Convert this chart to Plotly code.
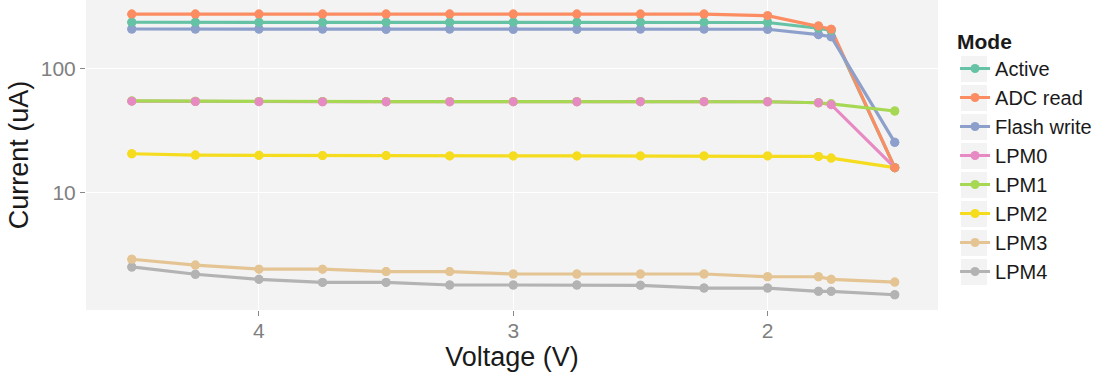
import plotly.graph_objects as go

voltage = [4.5, 4.25, 4.0, 3.75, 3.5, 3.25, 3.0, 2.75, 2.5, 2.25, 2.0, 1.8, 1.75, 1.5]

modes = ["Active", "ADC read", "Flash write", "LPM0", "LPM1", "LPM2", "LPM3", "LPM4"]
colors = ["#66c2a5", "#fc8d62", "#8da0cb", "#e78ac3", "#a6d854", "#f5dc1e", "#e5c494", "#b3b3b3"]

active = [238, 238, 238, 238, 238, 238, 238, 238, 238, 238, 237, 213, 204, 16.0]
adc_read = [277, 277, 277, 277, 277, 277, 277, 277, 277, 277, 269, 222, 209, 16.0]
flash_write = [210, 210, 210, 210, 209, 210, 209, 209, 210, 210, 209, 189, 182, 25.6]
lpm0 = [55.0, 54.6, 54.5, 54.4, 54.4, 54.4, 54.5, 54.4, 54.5, 54.5, 54.4, 53.4, 51.5, 16.0]
lpm1 = [55.2, 54.9, 54.7, 54.6, 54.5, 54.5, 54.5, 54.5, 54.5, 54.5, 54.4, 53.4, 52.3, 45.8]
lpm2 = [20.7, 20.2, 20.1, 20.0, 20.0, 19.9, 19.9, 19.9, 19.9, 19.9, 19.9, 19.7, 19.1, 16.0]
lpm3 = [2.92, 2.62, 2.43, 2.43, 2.32, 2.32, 2.22, 2.22, 2.22, 2.22, 2.11, 2.11, 2.01, 1.91]
lpm4 = [2.53, 2.21, 2.01, 1.90, 1.90, 1.81, 1.81, 1.81, 1.80, 1.71, 1.71, 1.61, 1.61, 1.51]

series = [active, adc_read, flash_write, lpm0, lpm1, lpm2, lpm3, lpm4]

fig = go.Figure()
for name, col, ys in zip(modes, colors, series):
    fig.add_trace(go.Scatter(
        x=voltage, y=ys, name=name, mode="lines+markers",
        line=dict(color=col, width=3.2),
        marker=dict(color=col, size=9),
    ))

# redraw points on top of all lines
marker_order = ["LPM4", "LPM3", "LPM2", "LPM1", "LPM0", "Flash write", "Active", "ADC read"]
for name in marker_order:
    i = modes.index(name)
    fig.add_trace(go.Scatter(
        x=voltage, y=series[i], mode="markers", showlegend=False,
        marker=dict(color=colors[i], size=9), hoverinfo="skip",
    ))

font_family = "Liberation Sans, Arial, sans-serif"

# grey legend key backgrounds (ggplot style)
H = 310.0
item_spacing = 29.0
first_center = 69.0
key_shapes = []
for k in range(len(modes)):
    cy = first_center + k * item_spacing
    key_shapes.append(dict(
        type="rect", xref="paper", yref="paper", layer="below",
        x0=(961 - 86) / 852.0, x1=(987 - 86) / 852.0,
        y0=1 - (cy + 13) / H, y1=1 - (cy - 13) / H,
        fillcolor="#f2f3f2", line=dict(width=0),
    ))

fig.update_layout(
    width=1108, height=374,
    margin=dict(l=86, r=170, t=0, b=64),
    paper_bgcolor="white",
    plot_bgcolor="#f2f3f2",
    font=dict(family=font_family, color="black"),
    shapes=key_shapes,
    xaxis=dict(
        range=[4.68, 1.33],
        tickvals=[4, 3, 2], ticktext=["4", "3", "2"],
        showgrid=True, gridcolor="white", gridwidth=1.3,
        zeroline=False, showline=False,
        ticks="outside", ticklen=5, tickcolor="#8a8a8a", tickwidth=1.3,
        tickfont=dict(size=21, color="#7f7f7f"),
        ticklabelstandoff=-3,
        title=dict(text="Voltage (V)", font=dict(size=27, color="#1a1a1a"), standoff=0),
    ),
    yaxis=dict(
        type="log",
        range=[0.056, 2.556],
        tickvals=[10, 100], ticktext=["10", "100"],
        showgrid=True, gridcolor="white", gridwidth=1.3,
        zeroline=False, showline=False,
        ticks="outside", ticklen=5, tickcolor="#8a8a8a", tickwidth=1.3,
        tickfont=dict(size=21, color="#7f7f7f"),
        title=dict(text="Current (uA)", font=dict(size=27, color="#1a1a1a"), standoff=4),
    ),
    legend=dict(
        x=1.02, xanchor="left", y=0.93, yanchor="top",
        title=dict(text="<b>Mode</b>", font=dict(size=21, color="#1a1a1a")),
        font=dict(size=20, color="#1a1a1a"),
        bgcolor="rgba(0,0,0,0)",
        tracegroupgap=0, itemwidth=30,
    ),
)

fig.write_html("out.html", config={"displayModeBar": False},
               post_script="document.body.style.margin='0';document.body.style.padding='0';")
